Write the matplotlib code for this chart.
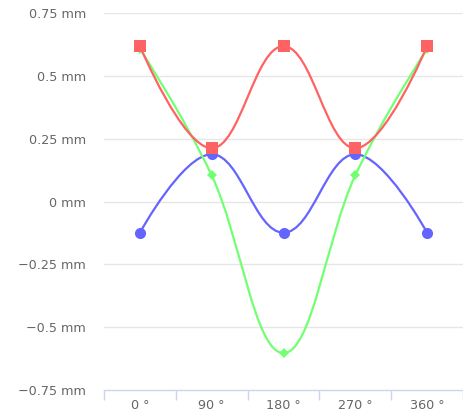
import numpy as np
import matplotlib
matplotlib.use("Agg")
import matplotlib.pyplot as plt
from matplotlib.path import Path
from matplotlib.patches import PathPatch
from matplotlib.ticker import FixedLocator, FuncFormatter

categories = ["0 °", "90 °", "180 °", "270 °", "360 °"]
blue_vals = [-0.124, 0.188, -0.124, 0.188, -0.124]
green_vals = [0.607, 0.104, -0.603, 0.104, 0.607]
red_vals = [0.618, 0.212, 0.618, 0.212, 0.618]
y_ticks = [-0.75, -0.5, -0.25, 0, 0.25, 0.5, 0.75]

W, H = 463, 415
fig = plt.figure(figsize=(W / 100, H / 100), dpi=100)
ax = fig.add_axes([104 / W, 1 - 390 / H, (463 - 104) / W, (390 - 13) / H])

ax.set_xlim(-0.5, len(categories) - 0.5)
ax.set_ylim(-0.75, 0.75)


def spline_path(xs, ys, smoothing=1.5):
    n = len(xs)
    denom = smoothing + 1
    lc = [(xs[i], ys[i]) for i in range(n)]
    rc = [(xs[i], ys[i]) for i in range(n)]
    for i in range(1, n - 1):
        px, py = xs[i], ys[i]
        lx, ly = xs[i - 1], ys[i - 1]
        nx, ny = xs[i + 1], ys[i + 1]
        lcx = (smoothing * px + lx) / denom
        lcy = (smoothing * py + ly) / denom
        rcx = (smoothing * px + nx) / denom
        rcy = (smoothing * py + ny) / denom
        if rcx != lcx:
            corr = ((rcy - lcy) * (rcx - px)) / (rcx - lcx) + py - rcy
            lcy += corr
            rcy += corr
        if lcy > ly and lcy > py:
            lcy = max(ly, py)
            rcy = 2 * py - lcy
        elif lcy < ly and lcy < py:
            lcy = min(ly, py)
            rcy = 2 * py - lcy
        if rcy > ny and rcy > py:
            rcy = max(ny, py)
            lcy = 2 * py - rcy
        elif rcy < ny and rcy < py:
            rcy = min(ny, py)
            lcy = 2 * py - rcy
        lc[i] = (lcx, lcy)
        rc[i] = (rcx, rcy)
    verts = [(xs[0], ys[0])]
    codes = [Path.MOVETO]
    for i in range(1, n):
        verts += [rc[i - 1], lc[i], (xs[i], ys[i])]
        codes += [Path.CURVE4] * 3
    return Path(verts, codes)


xs = list(range(len(categories)))
series = [
    (blue_vals, "#6464ff", "o", 8),
    (green_vals, "#72ff72", "D", 5.5),
    (red_vals, "#ff6262", "s", 9),
]
for z, (vals, color, marker, ms) in enumerate(series):
    p = spline_path(xs, vals)
    ax.add_patch(PathPatch(p, facecolor="none", edgecolor=color, lw=1.6,
                           zorder=3 + 2 * z, capstyle="round", joinstyle="round"))
    ax.plot(xs, vals, linestyle="none", marker=marker, markersize=ms,
            color=color, markeredgewidth=0, zorder=4 + 2 * z)

# grid
for t in y_ticks[1:]:
    ax.axhline(t, color="#e6e6e6", lw=1, zorder=1)

for s in ["top", "right", "left"]:
    ax.spines[s].set_visible(False)
ax.spines["bottom"].set_color("#ccd6eb")
ax.spines["bottom"].set_linewidth(1)

ax.yaxis.set_major_locator(FixedLocator(y_ticks))
ax.yaxis.set_major_formatter(FuncFormatter(lambda v, p: ("0" if v == 0 else f"{v:g}").replace("-", "\u2212") + " mm"))
ax.tick_params(axis="y", length=0, pad=13, labelsize=9.2, labelcolor="#666666")

ax.set_xticks(xs)
ax.set_xticklabels(categories)
ax.tick_params(axis="x", which="major", length=0, pad=6.5, labelsize=9.2, labelcolor="#666666")
ax.set_xticks(np.arange(-0.5, len(categories), 1.0), minor=True)
ax.tick_params(axis="x", which="minor", length=7.5, width=1, color="#ccd6eb", direction="out")

fig.savefig("out.png", dpi=100)
